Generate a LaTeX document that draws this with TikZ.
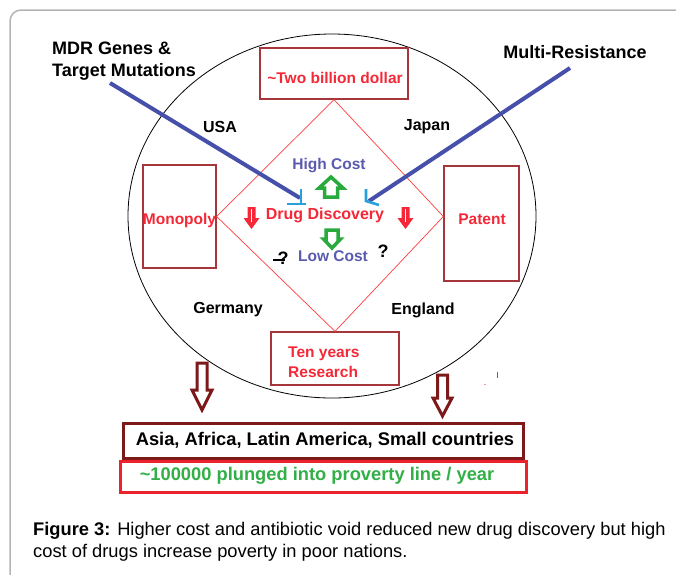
\documentclass[tikz,border=0pt]{standalone}
\usepackage{fontspec}
\setmainfont{Liberation Sans}
\usetikzlibrary{shapes.geometric}
\definecolor{boxred}{RGB}{165,55,60}
\definecolor{diared}{RGB}{255,60,60}
\definecolor{txtred}{RGB}{245,40,55}
\definecolor{txtblue}{RGB}{90,90,175}
\definecolor{linblue}{RGB}{70,80,170}
\definecolor{teeblue}{RGB}{40,160,220}
\definecolor{arrgreen}{RGB}{40,170,60}
\definecolor{txtgreen}{RGB}{50,175,70}
\definecolor{darkred}{RGB}{125,25,25}
\definecolor{povred}{RGB}{235,35,45}
\definecolor{framegray}{RGB}{180,180,180}
\begin{document}
\begin{tikzpicture}[x=1pt,y=-1pt,
  lbl/.style={font=\fontsize{16}{19}\selectfont\bfseries, text=black, inner sep=0},
  big/.style={font=\fontsize{18}{22}\selectfont\bfseries, text=black, inner sep=0},
  redtxt/.style={font=\fontsize{15.5}{20}\selectfont\bfseries, text=txtred, inner sep=0},
  bluetxt/.style={font=\fontsize{15.5}{19}\selectfont\bfseries, text=txtblue, inner sep=0},
  rbox/.style={draw=boxred, line width=1.3pt, inner sep=0},
  bluearrow/.style={draw=linblue, line width=4pt},
  tee/.style={draw=teeblue, line width=2.6pt},
  greenarr/.style={draw=arrgreen, line width=3.5pt, line join=miter},
  redarr/.style={fill=txtred, draw=none},
  drarr/.style={draw=darkred, line width=3pt, line join=miter},
  qm/.style={font=\fontsize{18}{20}\selectfont\bfseries, text=black, inner sep=0}]
\useasboundingbox (0,0) rectangle (676,574);
\clip (0,0) rectangle (676,574);
\fill[white] (0,0) rectangle (676,574);
% frame
\draw[framegray, line width=1.5pt, rounded corners=11pt] (10,700) -- (10,10) -- (700,10);
% ellipse
\node[draw=black, line width=0.8pt, ellipse, minimum width=408pt, minimum height=364pt, inner sep=0] (circ) at (332,216) {};
% boxes
\node[rbox, minimum width=148pt, minimum height=51pt] (twobox) at (334,73.5) {};
\node[redtxt] (twotxt) at (335,78) {\textasciitilde Two billion dollar};
\node[rbox, minimum width=73pt, minimum height=103pt] (mono) at (179.5,216.5) {};
\node[redtxt] (monotxt) at (179.5,220) {Monopoly};
\node[rbox, minimum width=75pt, minimum height=115pt] (patent) at (481.5,223.5) {};
\node[redtxt] (patenttxt) at (482,219) {Patent};
\node[rbox, minimum width=128pt, minimum height=53pt] (tenbox) at (335,358.5) {};
\node[redtxt, align=left, anchor=west, font=\fontsize{15.5}{20.5}\selectfont\bfseries] (tentxt) at (288,362) {Ten years\\Research};
% diamond
\draw[diared, line width=0.7pt] (twobox.south) -- (patent.west |- mono.east) -- (tenbox.north) -- (mono.east) -- cycle;
% country labels
\node[lbl] (usa) at (220,127) {USA};
\node[lbl] (japan) at (427,127) {Japan};
\node[lbl] (germany) at (228,310) {Germany};
\node[lbl] (england) at (423,310) {England};
% top labels
\node[big, align=left, anchor=west] (mdr) at (52,61) {MDR Genes \&\\Target Mutations};
\node[big] (multi) at (575,52) {Multi-Resistance};
% inner texts
\node[bluetxt] (high) at (329,166) {High Cost};
\node[redtxt, font=\fontsize{16}{19}\selectfont\bfseries] (drug) at (325,215) {Drug Discovery};
\node[bluetxt] (low) at (333,256) {Low Cost};
% blue lines
\coordinate (mdrstart) at (110,83);
\coordinate (mdrend) at (300,198);
\coordinate (multistart) at (570,68);
\coordinate (multiend) at (369,201);
\draw[bluearrow] (mdrstart) -- (mdrend);
\draw[bluearrow] (multistart) -- (multiend);
\draw[tee] (301,189) -- (301,204) (287,204) -- (306,204);
\draw[tee, line join=miter] (366,189) -- (366,201) -- (379,205);
% green arrows
\draw[greenarr] (331,177) -- (343,188) -- (337.5,188) -- (337.5,197) -- (324.5,197) -- (324.5,188) -- (319,188) -- cycle;
\draw[greenarr] (326,230) -- (338,230) -- (338,239) -- (340.5,239) -- (332,248) -- (323.5,239) -- (326,239) -- cycle;
% red filled arrows
\fill[redarr] (247.5,207) -- (255.5,207) -- (255.5,218) -- (259.5,218) -- (251.5,229) -- (243.5,218) -- (247.5,218) -- cycle;
\draw[white, line width=0.6pt] (251.5,209) -- (251.5,222);
\fill[redarr] (401.5,207) -- (409.5,207) -- (409.5,218) -- (413.5,218) -- (405.5,229) -- (397.5,218) -- (401.5,218) -- cycle;
\draw[white, line width=0.6pt] (405.5,209) -- (405.5,222);
% question marks
\node[qm] (q1) at (283,258) {?};
\draw[black, line width=1.3pt] (273,260) -- (285,260);
\node[qm] (q2) at (383,251) {?};
% dark red outline arrows
\draw[drarr] (197,363) -- (207,363) -- (207,390) -- (212,390) -- (202,410) -- (192,390) -- (197,390) -- cycle;
\draw[drarr] (437.5,375) -- (447.5,375) -- (447.5,398) -- (452,398) -- (442.5,416) -- (433,398) -- (437.5,398) -- cycle;
% tiny marks
\draw[txtred, line width=0.8pt] (497,372) -- (497,378);
\fill[txtred] (485,384.5) circle (0.6);
% bottom boxes
\node[draw=darkred, line width=3pt, minimum width=400pt, minimum height=35pt, inner sep=0] (asia) at (323,440.5) {};
\node[big, font=\fontsize{18.3}{22}\selectfont\bfseries] (asiatxt) at (325,440) {Asia, Africa, Latin America, Small countries};
\node[draw=povred, line width=3pt, minimum width=406pt, minimum height=31pt, inner sep=0] (pov) at (323,476.5) {};
\node[big, text=txtgreen, font=\fontsize{18.3}{22}\selectfont\bfseries] (povtxt) at (317,476) {\textasciitilde 100000 plunged into proverty line / year};
% caption
\node[anchor=west, align=left, inner sep=0, font=\fontsize{18.3}{21.5}\selectfont] (cap) at (33,542) {\textbf{Figure 3:} Higher cost and antibiotic void reduced new drug discovery but high\\cost of drugs increase poverty in poor nations.};
\end{tikzpicture}
\end{document}
